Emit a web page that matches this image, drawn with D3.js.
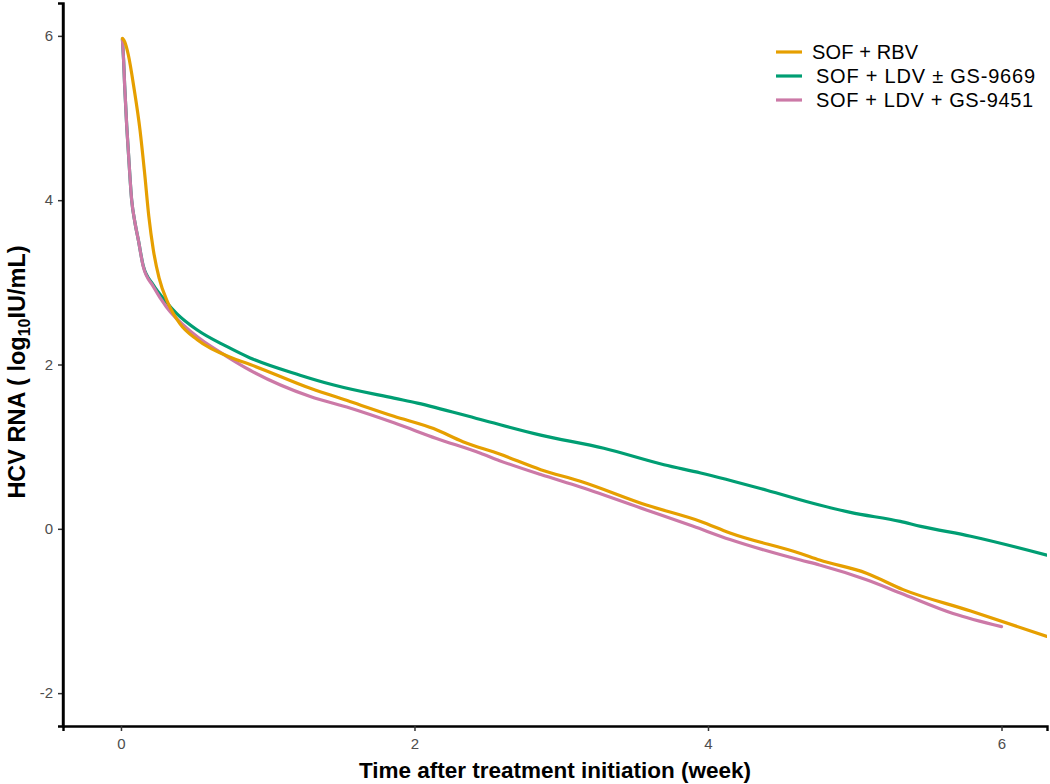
<!DOCTYPE html>
<html><head><meta charset="utf-8">
<script src="https://cdn.jsdelivr.net/npm/d3@7"></script>
<style>body{margin:0;background:#fff}svg{display:block}text{font-family:"Liberation Sans",Arial,sans-serif}</style>
</head><body>
<svg id="c" width="1050" height="784"></svg>
<script>
const seriesNames = ["SOF + RBV", "SOF + LDV \u00B1 GS-9669", "SOF + LDV + GS-9451"];
const seriesColors = ["#E69F00", "#009E73", "#CC79A7"];
const xTicks = [0, 2, 4, 6];
const yTicks = [-2, 0, 2, 4, 6];

const sofRbvT = [0.01,0.025,0.05,0.09,0.13,0.16,0.19,0.22,0.26,0.32,0.40,0.52,0.77,0.88,1.29,1.56,1.86,2.13,2.33,2.58,2.86,3.13,3.58,3.95,4.15,4.63,4.76,5.08,5.33,5.79,6.31];
const sofRbvV = [5.97,5.93,5.77,5.35,4.85,4.35,3.80,3.40,3.05,2.75,2.50,2.30,2.07,2.00,1.71,1.55,1.37,1.22,1.06,0.91,0.72,0.58,0.29,0.09,-0.05,-0.30,-0.38,-0.54,-0.74,-1.00,-1.31];

const sofLdvGs9669T = [0.01,0.018,0.025,0.039,0.05,0.073,0.095,0.118,0.152,0.22,0.30,0.38,0.52,0.72,0.88,1.22,1.45,1.86,2.02,2.45,2.86,3.29,3.70,3.95,4.40,4.76,4.97,5.31,5.45,5.79,6.31];
const sofLdvGs9669V = [5.96,5.70,5.40,4.91,4.60,4.00,3.73,3.52,3.20,2.97,2.78,2.62,2.42,2.22,2.08,1.87,1.75,1.59,1.53,1.33,1.14,0.98,0.78,0.68,0.47,0.29,0.20,0.09,0.03,-0.09,-0.32];

const sofLdvGs9451T = [0.01,0.018,0.025,0.039,0.05,0.073,0.095,0.118,0.152,0.22,0.31,0.49,0.72,0.88,1.29,1.56,1.86,2.15,2.45,2.58,2.86,3.13,3.58,3.90,4.15,4.63,4.76,5.08,5.31,5.67,6.00];
const sofLdvGs9451V = [5.96,5.70,5.40,4.91,4.60,4.00,3.73,3.52,3.19,2.95,2.70,2.38,2.10,1.93,1.61,1.47,1.29,1.10,0.92,0.83,0.66,0.51,0.23,0.03,-0.13,-0.38,-0.44,-0.62,-0.78,-1.03,-1.19];

const series = [
  sofRbvT.map((t,i)=>({t, v:sofRbvV[i]})),
  sofLdvGs9669T.map((t,i)=>({t, v:sofLdvGs9669V[i]})),
  sofLdvGs9451T.map((t,i)=>({t, v:sofLdvGs9451V[i]}))
];

const svg = d3.select("#c");
const L = 63, R = 1047, T = 3, B = 726;
const x = d3.scaleLinear().domain([-0.395, 6.31]).range([L, R]);
const y = d3.scaleLinear().domain([-2.4, 6.4]).range([B, T]);

svg.append("defs").append("clipPath").attr("id","clip")
  .append("rect").attr("x",L).attr("y",T).attr("width",R-L).attr("height",B-T);

const line = d3.line().x(d=>x(d.t)).y(d=>y(d.v)).curve(d3.curveMonotoneX);
const g = svg.append("g").attr("clip-path","url(#clip)");
[1,2,0].forEach(i=>{
  g.append("path").datum(series[i]).attr("d",line)
    .attr("fill","none").attr("stroke",seriesColors[i]).attr("stroke-width",3.2)
    .attr("stroke-linejoin","round").attr("stroke-linecap","round");
});

// axes
const xa = svg.append("g").attr("transform",`translate(0,${B})`)
  .call(d3.axisBottom(x).tickValues(xTicks).tickSize(5).tickPadding(7).tickFormat(d3.format("d")));
const ya = svg.append("g").attr("transform",`translate(${L},0)`)
  .call(d3.axisLeft(y).tickValues(yTicks).tickSize(5).tickPadding(5).tickFormat(d=>d<0?"-"+Math.abs(d):d));
[xa,ya].forEach(a=>{
  a.select(".domain").attr("stroke","#000").attr("stroke-width",2.4);
  a.selectAll(".tick line").attr("stroke","#333").attr("stroke-width",1.5);
  a.selectAll(".tick text").attr("fill","#4D4D4D").style("font-size","15px").style("font-family","'Liberation Sans',Arial,sans-serif");
});
svg.append("line").attr("x1",L).attr("x2",L).attr("y1",T).attr("y2",B+1.2).attr("stroke","#000").attr("stroke-width",2.4);

// axis titles
svg.append("text").attr("x",555).attr("y",778).attr("text-anchor","middle")
  .style("font-size","22.5px").style("font-weight","bold").text("Time after treatment initiation (week)");
const yt = svg.append("text").attr("transform",`translate(25,372) rotate(-90)`).attr("text-anchor","middle")
  .style("font-size","23.5px").style("font-weight","bold");
yt.append("tspan").text("HCV RNA ( log");
yt.append("tspan").attr("dy",5).style("font-size","16px").text("10");
yt.append("tspan").attr("dy",-5).text("IU/mL)");

// legend
const legX = [812, 816, 816];
const legW = [106, 219, 217];
const leg = svg.append("g");
seriesNames.forEach((n,i)=>{
  const yy = 52 + i*24;
  leg.append("line").attr("x1",776).attr("x2",802).attr("y1",yy).attr("y2",yy)
    .attr("stroke",seriesColors[i]).attr("stroke-width",3.2);
  leg.append("text").attr("x",legX[i]).attr("y",yy+7).style("font-size","20px").attr("fill","#000")
    .attr("textLength",legW[i]).attr("lengthAdjust","spacing").text(n);
});
</script>
</body></html>
